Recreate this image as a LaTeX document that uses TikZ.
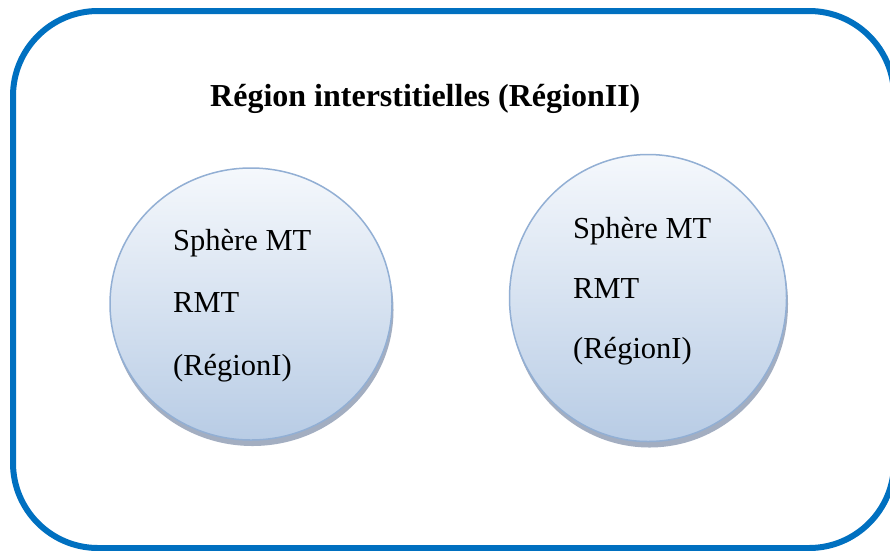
\documentclass[tikz,border=0pt]{standalone}
\usepackage{fontspec}
\setmainfont{Liberation Serif}
\usetikzlibrary{positioning, shapes.geometric, shadows}
\definecolor{FrameBlue}{RGB}{0,112,192}
\definecolor{SphereTop}{RGB}{245,248,252}
\definecolor{SphereBot}{RGB}{184,204,229}
\definecolor{SphereLine}{RGB}{146,175,212}
\definecolor{SphereShadow}{RGB}{140,154,178}

\tikzset{
  sphere/.style={ellipse, draw=SphereLine, line width=1.5pt,
    top color=SphereTop, bottom color=SphereBot, inner sep=0pt,
    drop shadow={shadow xshift=1.5pt, shadow yshift=-6pt, fill=SphereShadow, opacity=.8}},
  spheretext/.style={anchor=base west, inner sep=0pt, font=\fontsize{30.5}{32}\selectfont},
}

\begin{document}
\begin{tikzpicture}[x=1pt,y=-1pt]
  \useasboundingbox (0,0) rectangle (890,550);
  \clip (0,0) rectangle (890,550);
  \fill[white] (0,0) rectangle (890,550);

  % Frame (Region II)
  \draw[FrameBlue, line width=6pt, rounded corners=85pt] (13,11) rectangle (894,548);
  \node[anchor=base west, inner sep=0pt, font=\bfseries\fontsize{32}{34}\selectfont] (title) at (210,106) {Région interstitielles (RégionII)};

  % Muffin-tin spheres (Region I)
  \node[sphere, minimum width=282pt, minimum height=272pt] (sphereL) at (251,304) {};
  \node[sphere, minimum width=277pt, minimum height=287pt] (sphereR) at (648,298) {};

  % Sphere labels
  \foreach \lbl/\yl/\yr [count=\i] in {Sphère MT/250/238, RMT/312/298, {(RégionI)}/375/358} {
    \node[spheretext] (lineL\i) at (173,\yl) {\lbl};
    \node[spheretext] (lineR\i) at (573,\yr) {\lbl};
  }
\end{tikzpicture}
\end{document}
